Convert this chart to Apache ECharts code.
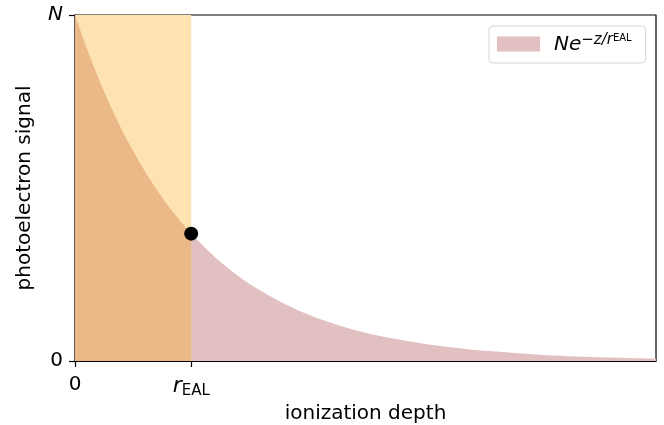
<!DOCTYPE html>
<html><head><meta charset="utf-8">
<script src="https://cdn.jsdelivr.net/npm/echarts@6/dist/echarts.min.js"></script>
<style>html,body{margin:0;padding:0;background:#fff}#c{width:664px;height:425px}</style>
</head><body><div id="c"></div>
<script>
// depth in units of r_EAL
const depthInner = [0, 0.1, 0.2, 0.3, 0.4, 0.5, 0.6, 0.7, 0.8, 0.9, 1.0];
const signalInner = [1.0, 0.905, 0.819, 0.741, 0.670, 0.607, 0.549, 0.497, 0.449, 0.407, 0.368];
const depthOuter = [1.0, 1.25, 1.5, 1.75, 2.0, 2.25, 2.5, 2.75, 3.0, 3.25, 3.5, 3.75, 4.0, 4.25, 4.5, 4.75, 5.0];
const signalOuter = [0.368, 0.287, 0.223, 0.174, 0.135, 0.105, 0.082, 0.064, 0.050, 0.039, 0.030, 0.024, 0.018, 0.014, 0.011, 0.009, 0.007];
const bandX = [0, 1];
const bandY = [1, 1];
const markerPoint = [1.0, 0.368];
const xTicks = [0, 1];
const xTickLabels = ['0', '{r|r}{s|EAL}'];
const yTicks = [0, 1];
const yTickLabels = ['0', '{i|N}'];
const legendLabel = '{n|Ne}{p|−z/r}{q|EAL}';

const zip = (a, b) => a.map((v, i) => [v, b[i]]);
const depthAll = depthInner.concat(depthOuter.slice(1));
const signalAll = signalInner.concat(signalOuter.slice(1));
const FONT = 'DejaVu Sans';
const chart = echarts.init(document.getElementById('c'), null, {renderer: 'canvas'});
chart.setOption({
  animation: false,
  backgroundColor: '#fff',
  grid: {left: 75, right: 8, top: 15, bottom: 64, outerBoundsMode: 'none', containLabel: false,
         show: true, borderColor: '#000', borderWidth: 1.2, backgroundColor: 'transparent'},
  legend: {
    data: [{name: 'pink', icon: 'rect'}],
    left: 489, top: 26,
    itemWidth: 43, itemHeight: 15,
    padding: [7, 14, 7, 8],
    borderColor: '#d6d6d6', borderWidth: 1, borderRadius: 4,
    backgroundColor: '#fff',
    formatter: () => legendLabel,
    textStyle: {
      fontFamily: FONT, color: '#000', fontSize: 20, padding: [0, 0, 0, 9],
      rich: {
        n: {fontFamily: FONT, fontSize: 20, fontStyle: 'italic', lineHeight: 22, verticalAlign: 'bottom'},
        p: {fontFamily: FONT, fontSize: 15, fontStyle: 'italic', lineHeight: 22, verticalAlign: 'top', padding: [0, 0, 8, 0]},
        q: {fontFamily: FONT, fontSize: 10, lineHeight: 22, verticalAlign: 'top', padding: [0, 0, 3, 0]}
      }
    }
  },
  xAxis: {
    type: 'value', min: 0, max: 5,
    name: 'ionization depth', nameLocation: 'middle', nameGap: 40,
    nameTextStyle: {fontFamily: FONT, fontSize: 20, color: '#000'},
    axisLine: {show: true, onZero: false, lineStyle: {color: '#000', width: 1.2}},
    axisTick: {show: true, length: 6, customValues: xTicks, lineStyle: {color: '#000', width: 1.2}},
    splitLine: {show: false},
    axisLabel: {
      customValues: xTicks, margin: 14, fontFamily: FONT, fontSize: 20, color: '#000',
      formatter: v => xTickLabels[xTicks.indexOf(v)],
      rich: {
        r: {fontFamily: FONT, fontSize: 22, fontStyle: 'italic', lineHeight: 24, verticalAlign: 'top'},
        s: {fontFamily: FONT, fontSize: 15, lineHeight: 24, verticalAlign: 'bottom', padding: [7, 0, 0, 0]}
      }
    }
  },
  yAxis: {
    type: 'value', min: 0, max: 1,
    name: 'photoelectron signal', nameLocation: 'middle', nameGap: 40,
    nameTextStyle: {fontFamily: FONT, fontSize: 20, color: '#000'},
    axisLine: {show: true, onZero: false, lineStyle: {color: '#000', width: 1.2}},
    axisTick: {show: true, length: 6, customValues: yTicks, lineStyle: {color: '#000', width: 1.2}},
    splitLine: {show: false},
    axisLabel: {
      customValues: yTicks, margin: 12, fontFamily: FONT, fontSize: 20, color: '#000',
      formatter: v => yTickLabels[yTicks.indexOf(v)],
      rich: {i: {fontFamily: FONT, fontSize: 20, fontStyle: 'italic'}}
    }
  },
  series: [
    {
      name: 'pink', type: 'line', z: 1, data: zip(depthAll, signalAll), smooth: 0.3,
      showSymbol: false, lineStyle: {width: 0}, areaStyle: {color: '#E2BFC0', opacity: 1},
      itemStyle: {color: '#E2BFC0'}, silent: true
    },
    {
      name: 'band', type: 'line', z: 2, data: zip(bandX, bandY),
      showSymbol: false, lineStyle: {width: 0}, areaStyle: {color: '#FDE3B1', opacity: 1},
      itemStyle: {color: '#FDE3B1'}, silent: true
    },
    {
      name: 'inner', type: 'line', z: 3, data: zip(depthInner, signalInner), smooth: 0.3,
      showSymbol: false, lineStyle: {width: 0}, areaStyle: {color: '#EBB888', opacity: 1},
      itemStyle: {color: '#EBB888'}, silent: true
    },
    {
      name: 'point', type: 'scatter', z: 5, data: [markerPoint], symbolSize: 14,
      itemStyle: {color: '#000', opacity: 1}, silent: true
    }
  ]
});
</script></body></html>
